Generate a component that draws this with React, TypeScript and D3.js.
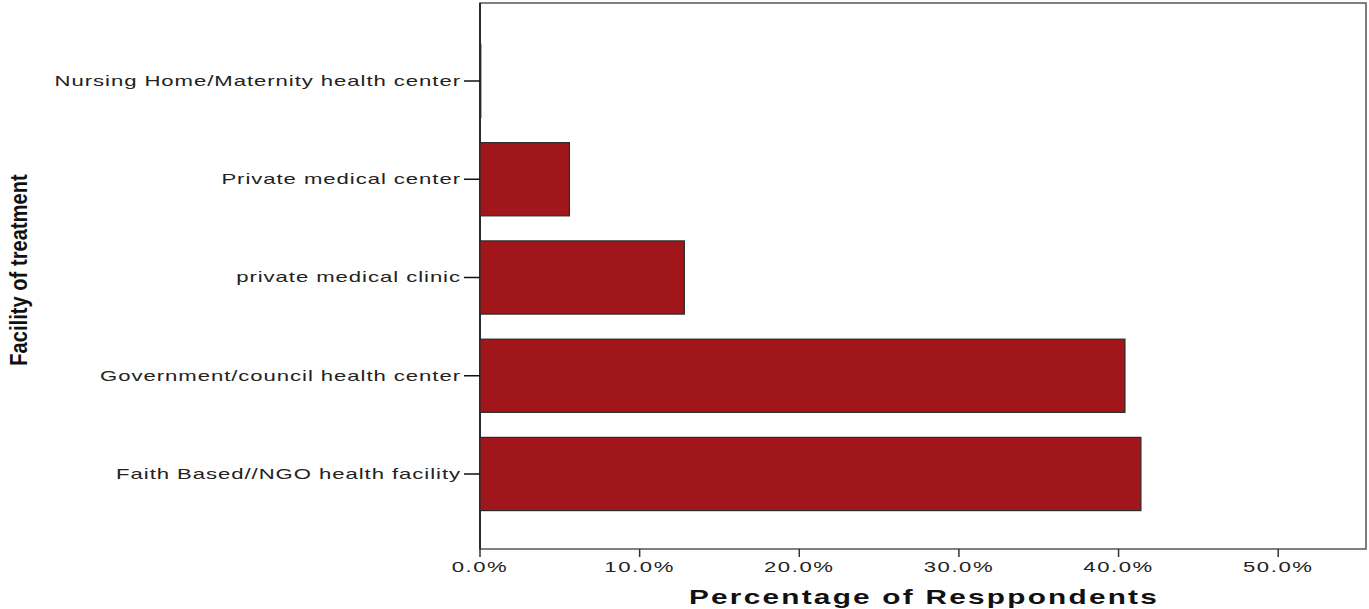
import React from "react";
import * as d3 from "d3";

const categories = [
  "Nursing Home/Maternity health center",
  "Private medical center",
  "private medical clinic",
  "Government/council health center",
  "Faith Based//NGO health facility",
];
const values = [0.0, 5.6, 12.8, 40.4, 41.4];
const xTicks = [0, 10, 20, 30, 40, 50];
const xTitle = "Percentage of Resppondents";
const yTitle = "Facility of treatment";

export default function App() {
  const W = 1369, H = 609;
  const left = 480, right = 1366, top = 3, bottom = 549;
  const x = d3.scaleLinear().domain([0, 55.5]).range([left, right]);
  const y = d3.scalePoint<string>().domain(categories).range([81, 474]);
  const barH = y.step() * 0.745;
  const fmt = (v: number) => v.toFixed(1) + "%";
  const stretch = "scale(1.58,1)";
  return (
    <svg width={W} height={H} style={{ position: "absolute", left: 0, top: 0, background: "#fff" }}>
      {/* frame */}
      <rect x={left} y={top} width={right - left} height={bottom - top} fill="none" stroke="#555" strokeWidth={1.5} />
      <line x1={left} x2={left} y1={top} y2={bottom} stroke="#111" strokeWidth={1.5} />
      {/* bars */}
      {categories.map((c, i) => (
        <rect key={c} x={x(0)} y={(y(c) as number) - barH / 2} width={Math.max(x(values[i]) - x(0), 0.8)} height={barH}
          fill="#a0161b" stroke="#2a2a2a" strokeWidth={1.2} />
      ))}
      {/* y ticks + labels */}
      {categories.map((c) => (
        <g key={c} transform={`translate(0,${y(c)})`}>
          <line x1={left - 16} x2={left} y1={0} y2={0} stroke="#111" strokeWidth={1.5} />
          <text transform={`translate(${left - 19},0) ${stretch}`} textAnchor="end" dy="0.35em"
            fontFamily="Liberation Sans, Arial, sans-serif" fontSize={14} letterSpacing={0.6} fill="#222">{c}</text>
        </g>
      ))}
      {/* x ticks + labels */}
      {xTicks.map((t) => (
        <g key={t} transform={`translate(${x(t)},0)`}>
          <line x1={0} x2={0} y1={bottom} y2={bottom + 8} stroke="#333" strokeWidth={1.5} />
          <text transform={`translate(0,${bottom + 23}) ${stretch}`} textAnchor="middle"
            fontFamily="Liberation Sans, Arial, sans-serif" fontSize={14} letterSpacing={1} fill="#222">{fmt(t)}</text>
        </g>
      ))}
      {/* axis titles */}
      <text transform={`translate(924,604) scale(1.49,1)`} textAnchor="middle"
        fontFamily="Liberation Sans, Arial, sans-serif" fontWeight="bold" fontSize={20} letterSpacing={1.5} fill="#111">{xTitle}</text>
      <text transform={`translate(27,270) rotate(-90) scale(0.84,1)`} textAnchor="middle"
        fontFamily="Liberation Sans Narrow, Liberation Sans, Arial, sans-serif" fontWeight="bold" fontSize={24} fill="#111">{yTitle}</text>
    </svg>
  );
}
